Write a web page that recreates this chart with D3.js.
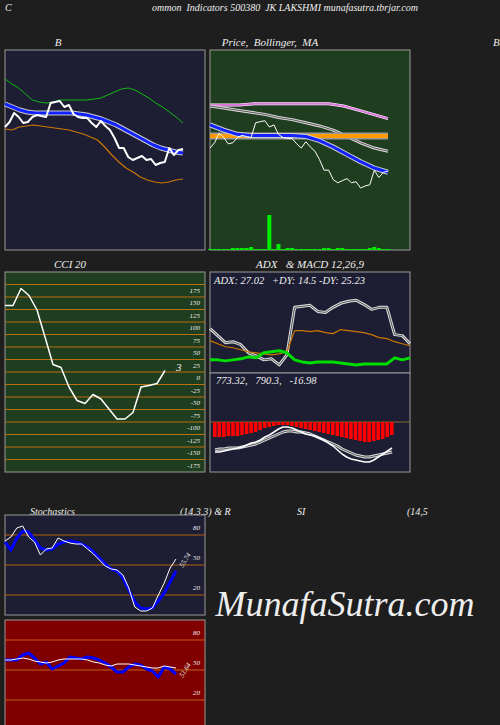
<!DOCTYPE html><html><head><meta charset="utf-8">
<script src="https://d3js.org/d3.v7.min.js"></script>
<style>body{margin:0;background:#1e1e1e}text{font-family:"Liberation Serif","DejaVu Serif",serif;font-style:italic;fill:#eee;white-space:pre}</style>
</head><body><svg id="c" width="500" height="725"></svg><script>
// ---- data ----
const price=[823,828,837,833,827,828,833,835,834,833,847,848,849,843,845,836,833,832,832,827,823,829,824,820,812,802,802,793,790,792,794,790,791,785,787,788,802,795,800,801];
const bbUpper=[871,866,862,856,850,848,847,848,850,850,850,850,850,851,852,855,858,861,862,860,856,852,847,843,838,833,827];
const bbLower=[821,820,823,824,825,824,823,822,821,820,818,816,813,810,803,795,788,782,778,773,770,768,767,768,770,771];
const bbMid=[846,843,840,838,837,837,837,837,837,837,836,835,833,831,828,825,821,817,813,809,805,802,800,798,797];
const maPink=[864,864,864,865,865,865,865,865,865,863,859,855,851];
const maGray=[863,861,859,857,855,852,850,847,844,840,834,828,823,820];
const maOrange=[834.5,834.5,834.5,834.5,834.5,834.5,834.5,834.5,834.5,834.5];
const maBlue=[845,840,836,835,835,835,835,834,830,824,817,810,804,800];
const volume=[1,1,1,1,1,2,2,2,2,3,1,1,1,35,1,6,1,2,2,1,1,1,1,1,1,2,2,1,2,2,1,1,1,1,1,2,3,2,1,1];
const cci=[133,133,167,153,124,70,15,9,-30,-57,-63,-45,-54,-74,-94,-94,-81,-30,-27,-23,3];
const cciLevels=[175,150,125,100,75,50,25,0,-25,-50,-75,-100,-125,-150,-175];
const adx=[44,37,30,31,28,20,17,13,14,8,18,65,66,67,61,60,65,69,71,72,68,63,65,65,38,37,29];
const pdi=[32,29,26,25,23,21,20,19,18,19,21,42,42,41,42,40,39,43,42,41,40,38,35,34,31,29,27];
const mdi=[13,13,12,13,14,16,15,20,21,22,20,13,11,10,11,11,11,10,9,8,9,9,9,9,15,13,15];
const macdHist=[-15,-15,-15,-14,-14,-14,-13,-12,-11,-10,-8,-6,-5,-4,-3,-3,-3,-4,-5,-6,-7,-8,-9,-10,-11,-12,-13,-14,-15,-16,-17,-18,-19,-20,-20,-19,-18,-17,-15,-13];
const macdLine=[-30,-30,-29,-28,-27,-26,-25,-23,-21,-20,-18,-15,-13,-10,-7,-5,-5,-6,-8,-10,-12,-13,-14,-16,-18,-21,-24,-28,-32,-35,-37,-38,-39,-40,-40,-38,-35,-32,-29,-26];
const macdSignal=[-28,-27,-27,-26,-26,-26,-25,-24,-23,-22,-20,-18,-16,-14,-12,-10,-9,-9,-10,-10,-11,-12,-14,-16,-18,-20,-22,-24,-27,-29,-31,-33,-34,-35,-35,-34,-33,-32,-31,-30];
const stochK=[74,78,87,89,78,73,60,66,67,77,74,72,71,71,66,61,55,49,46,45,40,27,8,4,4,7,20,32,47,56];
const stochD=[73,65,77,84,83,75,67,65,66,71,73,74,73,71,68,63,57,51,46,44,37,25,13,7,6,7,14,22,33,44];
const rsi=[60,60,60,65,67,62,56,58,51,54,57,63,62,61,63,62,60,57,53,48,48,53,56,55,51,49,43,53,51,46];
const rsiAvg=[60,60,61,62,61,59,58,57,58,60,61,61,61,61,60,58,57,55,54,56,56,56,55,54,53,52,52,54,53,52];
const oscLevels=[80,50,20];

const svg=d3.select("#c");
function txt(x,y,s,size,anchor,extra){const t=svg.append("text").attr("x",x).attr("y",y).attr("font-size",size||11).attr("text-anchor",anchor||"start").text(s);if(extra)extra(t);return t;}
function panel(x,y,w,h,fill){svg.append("rect").attr("x",x).attr("y",y).attr("width",w).attr("height",h).attr("fill",fill).attr("stroke","#999").attr("stroke-width",1);}
function line(data,xs,ys,color,width,g){const l=d3.line().x((d,i)=>xs(i)).y(d=>ys(d));(g||svg).append("path").datum(data).attr("d",l).attr("fill","none").attr("stroke",color).attr("stroke-width",width).attr("stroke-linejoin","round");}
function dline(data,xs,ys,w){line(data,xs,ys,"#ddd",w+2);line(data,xs,ys,"#555",w);}
const ix=(n,a,b)=>d3.scaleLinear().domain([0,n-1]).range([a,b]);

txt(5,11,"C",10);
txt(285,11,"ommon  Indicators 500380  JK LAKSHMI munafasutra.tbrjar.com",10,"middle");
txt(58,46,"B",11,"middle");
txt(270,46,"Price,  Bollinger,  MA",11,"middle");
txt(493,46,"B",11);

panel(5,50,200,200,"#1d1d33");
const yB=d3.scaleLinear().domain([700,900]).range([250,50]);
line(bbUpper,ix(bbUpper.length,5,183),yB,"#11bb11",1);
line(bbLower,ix(bbLower.length,5,183),yB,"#cc7700",1.2);
line(bbMid,ix(bbMid.length,5,183),yB,"#ccc",5);
line(bbMid,ix(bbMid.length,5,183),yB,"#1122ff",3);
line(price,ix(price.length,5,183),yB,"#fff",2);

panel(210,50,200,200,"#1f3d1f");
const yP=d3.scaleLinear().domain([700,900]).range([277.5,67]);
const xP=a=>ix(a.length,210,388);
const yV=d3.scaleLinear().domain([0,40]).range([250,210]);
const xV=ix(volume.length,210,388);
svg.selectAll(".v").data(volume).join("rect").attr("x",(d,i)=>xV(i)-2).attr("width",4).attr("y",d=>yV(d)).attr("height",d=>250-yV(d)).attr("fill","#00ee00");
line(maPink,xP(maPink),yP,"#fff",3);line(maPink,xP(maPink),yP,"#dd77dd",2);
dline(maGray,xP(maGray),yP,1);
line(maOrange,xP(maOrange),yP,"#999",7);line(maOrange,xP(maOrange),yP,"#ff9900",4);
line(maBlue,xP(maBlue),yP,"#ccc",5);line(maBlue,xP(maBlue),yP,"#1122ff",3);
line(price,xP(price),yP,"#fff",1);

txt(70,268,"CCI 20",11,"middle");
txt(310,268,"ADX   & MACD 12,26,9",11,"middle");
panel(5,272,200,200,"#1f3d1f");
const yC=d3.scaleLinear().domain([0,25]).range([372,359.5]);
cciLevels.forEach(v=>{svg.append("line").attr("x1",5).attr("x2",205).attr("y1",yC(v)).attr("y2",yC(v)).attr("stroke","#b87010").attr("stroke-width",1);
 txt(200,yC(v)+8,v,7,"end");});
line(cci,ix(cci.length,5,165),yC,"#fff",1.5);
txt(176,371,"3",11);

panel(210,272,200,101,"#1d1d33");
const yA=d3.scaleLinear().domain([0,100]).range([373,272]);
const xA=ix(adx.length,210,410);
dline(adx,xA,yA,1);
line(pdi,xA,yA,"#cc7700",1.2);
line(mdi,xA,yA,"#00dd00",3);
txt(214,284,"ADX: 27.02   +DY: 14.5 -DY: 25.23",10.5);
panel(210,373,200,99,"#1d1d33");
const yM=d3.scaleLinear().domain([-50,50]).range([472,372]);
const xM=ix(macdHist.length,215,392);
svg.append("line").attr("x1",210).attr("x2",410).attr("y1",yM(0)).attr("y2",yM(0)).attr("stroke","#8a6a30");
svg.selectAll(".m").data(macdHist).join("rect").attr("x",(d,i)=>xM(i)-2).attr("width",3.6).attr("y",yM(0)).attr("height",d=>yM(d)-yM(0)).attr("fill","#ff0000");
dline(macdSignal,xM,yM,1);
line(macdLine,xM,yM,"#fff",1.5);
txt(216,384,"773.32,   790.3,   -16.98",10.5);

txt(30,515,"Stochastics",10);txt(180,515,"(14,3,3) & R",10);txt(297,515,"SI",10);txt(407,515,"(14,5",10);
panel(5,515,200,100,"#1d1d33");
const yS=d3.scaleLinear().domain([0,100]).range([615,515]);
const xS=a=>ix(a.length,5,176);
oscLevels.forEach(v=>{svg.append("line").attr("x1",5).attr("x2",205).attr("y1",yS(v)).attr("y2",yS(v)).attr("stroke","#b86010");txt(200,yS(v)-5,v,7,"end");});
line(stochD,xS(stochD),yS,"#0000ff",3);
line(stochK,xS(stochK),yS,"#fff",1);
txt(183,568,"55.74",7,"start",t=>t.attr("transform","rotate(-60,183,568)").attr("fill","#ccc"));

panel(5,620,200,110,"#800000");
const yR=d3.scaleLinear().domain([0,100]).range([720,620]);
oscLevels.forEach(v=>{svg.append("line").attr("x1",5).attr("x2",205).attr("y1",yR(v)).attr("y2",yR(v)).attr("stroke","#c06010");txt(200,yR(v)-5,v,7,"end");});
line(rsi,xS(rsi),yR,"#0000ff",3);
line(rsiAvg,xS(rsiAvg),yR,"#fff",1);
txt(183,678,"51.64",7,"start",t=>t.attr("transform","rotate(-60,183,678)").attr("fill","#ccc"));

txt(345,616,"MunafaSutra.com",36,"middle");
</script></body></html>
